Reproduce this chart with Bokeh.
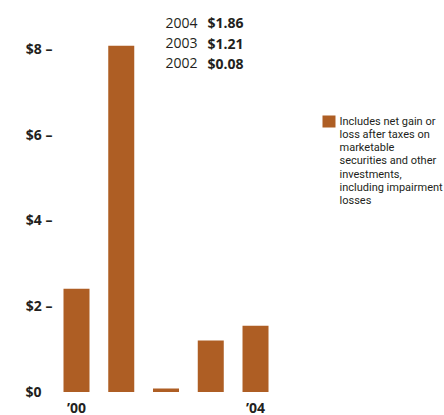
from bokeh.plotting import figure
from bokeh.models import FixedTicker, ColumnDataSource
from bokeh.core.properties import value
from bokeh.embed import file_html
from bokeh.resources import INLINE

# ---- data ----
years = ["2000", "2001", "2002", "2003", "2004"]
eps = [2.40, 8.05, 0.08, 1.20, 1.54]
x_labels = ["\u201900", "", "", "", "\u201904"]
y_ticks = [0, 2, 4, 6, 8]
y_tick_labels = ["$0\u00a0\u00a0\u00a0", "$2 \u2013", "$4 \u2013", "$6 \u2013", "$8 \u2013"]
ann_years = ["2004", "2003", "2002"]
ann_values = ["$1.86", "$1.21", "$0.08"]
legend_text = ("Includes net gain or\nloss after taxes on\nmarketable\n"
               "securities and other\ninvestments,\nincluding impairment\nlosses")

BAR = "#AE5E24"
INK = "#231f20"

xs = list(range(len(years)))

p = figure(width=444, height=415, output_backend="svg", toolbar_location=None,
           x_range=(-0.447, 8.223), y_range=(-0.547, 9.105),
           min_border_left=56, min_border_right=0, min_border_top=0, min_border_bottom=0)
p.outline_line_color = None
p.grid.visible = False
p.xaxis.visible = False
p.background_fill_color = "white"

ya = p.yaxis[0]
ya.ticker = FixedTicker(ticks=y_ticks)
ya.major_label_overrides = {t: l for t, l in zip(y_ticks, y_tick_labels)}
ya.axis_line_color = None
ya.major_tick_line_color = None
ya.minor_tick_line_color = None
ya.major_tick_out = 0
ya.major_tick_in = 0
ya.major_label_standoff = 4
ya.major_label_text_font = "Open Sans"
ya.major_label_text_font_style = "bold"
ya.major_label_text_font_size = "14px"
ya.major_label_text_color = INK

src = ColumnDataSource(dict(x=xs, top=eps, year=years))
p.vbar(x="x", top="top", bottom=0, width=0.581, source=src, fill_color=BAR, line_color=None)

# x labels
p.text(x=xs, y=[-0.355] * len(xs), text=x_labels, text_align="center",
       text_baseline="alphabetic", text_font=value("Open Sans"), text_font_style="bold",
       text_font_size="14px", text_color=INK)

# annotation rows
ann_y = [8.593, 8.105, 7.64]
p.text(x=[1.989] * 3, y=ann_y, text=ann_years, text_align="left", text_baseline="middle",
       text_font=value("Open Sans"), text_font_size="14px", text_color=INK)
p.text(x=[2.927] * 3, y=ann_y, text=ann_values, text_align="left", text_baseline="middle",
       text_font=value("Open Sans"), text_font_style="bold", text_font_size="14px", text_color=INK)

# legend
p.rect(x=[5.642], y=[6.29], width=13, height=12, width_units="screen", height_units="screen",
       fill_color=BAR, line_color=None)
p.text(x=[5.877], y=[6.453], text=[legend_text], text_align="left", text_baseline="top",
       text_font=value("Roboto"), text_font_size="11px", text_line_height=1.02, text_color=INK)

open("out.html", "w").write(file_html(p, INLINE))
